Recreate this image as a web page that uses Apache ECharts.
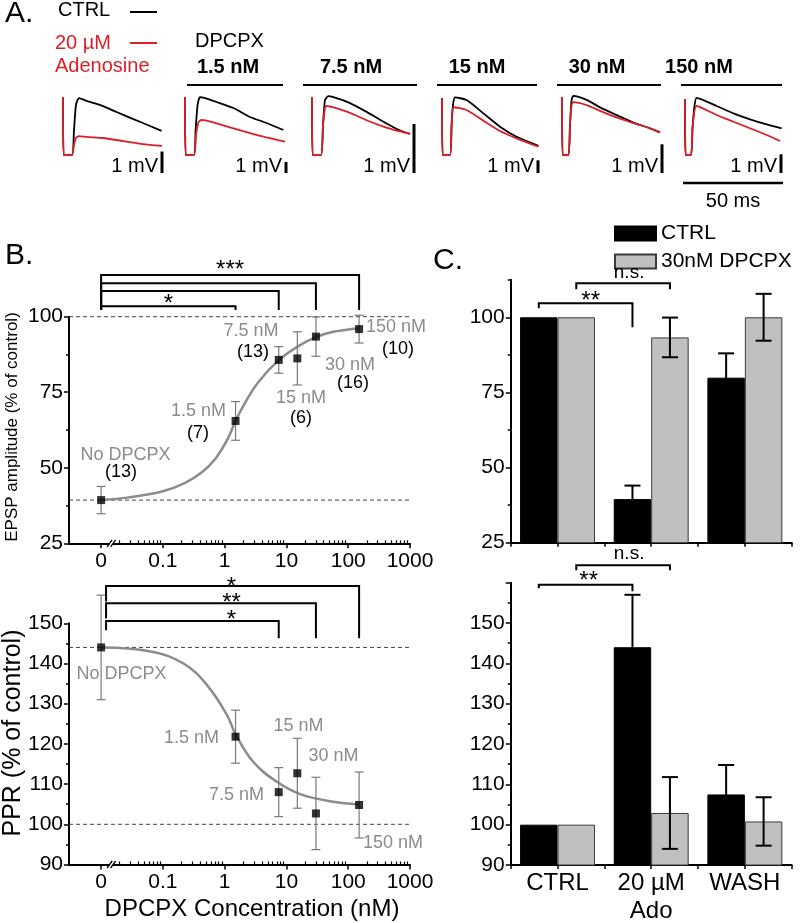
<!DOCTYPE html>
<html><head><meta charset="utf-8">
<script src="https://cdn.jsdelivr.net/npm/echarts@6/dist/echarts.min.js"></script>
<style>html,body{margin:0;padding:0;background:#fff}#c{width:800px;height:923px}</style>
</head><body><div id="c"></div>
<script>
// ===================== DATA =====================
// Panel A: EPSP traces [time ms, mV]
const ctrlTrace1 = [[0,2.70],[0.3,0],[4.5,0],[5.5,1.16],[6.5,2.33],[8,2.65],[12,2.51],[18.5,2.33],[26.8,2.00],[35.2,1.67],[43.5,1.35],[49.3,1.12]];
const adoTrace1  = [[0,2.70],[0.3,0],[4.5,0],[5.5,0.47],[6.5,0.79],[8,0.88],[12,0.84],[20,0.79],[30,0.65],[40,0.51],[49.5,0.42]];
const ctrlTrace2 = [[0,5.27],[0.3,0],[4.5,0],[5.3,2.27],[6.3,4.55],[7.5,5.27],[10,5.18],[15.8,4.82],[24.2,4.27],[32.5,3.45],[40.8,2.91],[49.2,2.27]];
const adoTrace2  = [[0,5.27],[0.3,0],[4.5,0],[5.5,1.82],[6.8,3.0],[8.3,3.18],[10.8,3.12],[15.8,2.88],[24.2,2.43],[37.5,1.73],[50,1.21]];
const ctrlTrace3 = [[0,1.18],[0.3,0],[4.5,0],[5.5,0.61],[6.5,1.12],[8.2,1.20],[10.7,1.18],[19,1.06],[27.3,0.88],[35.7,0.68],[44,0.50],[49,0.43]];
const adoTrace3  = [[0,1.18],[0.3,0],[4.5,0],[5.5,0.61],[6.5,0.96],[7.3,1.0],[10.7,0.97],[19,0.86],[27.3,0.71],[35.7,0.58],[44,0.48],[49,0.43]];
const ctrlTrace4 = [[0,4.49],[0.3,0],[4,0],[4.8,2.36],[5.5,3.94],[6.5,4.54],[12.3,4.33],[20.7,3.28],[29,2.23],[37.3,1.44],[48.2,0.73]];
const adoTrace4  = [[0,4.49],[0.3,0],[4,0],[4.8,2.36],[5.7,3.76],[12.3,3.54],[20.7,2.70],[29,1.89],[37.3,1.31],[48.2,0.65]];
const ctrlTrace5 = [[0,2.02],[0.3,0],[3.2,0],[4,1.05],[4.8,1.92],[5.7,2.06],[12.3,1.92],[19,1.66],[27.3,1.39],[35.7,1.13],[44,0.93],[49,0.79]];
const adoTrace5  = [[0,2.02],[0.3,0],[3.2,0],[4,1.05],[4.8,1.74],[5.7,1.84],[12.3,1.74],[19,1.54],[27.3,1.31],[35.7,1.11],[44,0.93],[49,0.79]];
const ctrlTrace6 = [[0,2.99],[0.3,0],[3,0],[3.8,1.50],[4.8,2.67],[5.8,3.06],[15.8,2.62],[24.2,2.23],[32.5,1.91],[40.8,1.64],[48.3,1.43]];
const adoTrace6  = [[0,2.99],[0.3,0],[3,0],[3.8,1.50],[5.8,2.62],[15.8,2.14],[24.2,1.78],[32.5,1.43],[40.8,1.07],[47.5,0.75]];
const traceTitles = ['', '1.5 nM', '7.5 nM', '15 nM', '30 nM', '150 nM'];

// Panel B
const dpcpxConc = [0, 1.5, 7.5, 15, 30, 150];
const epspMean = [39.3, 65.5, 85.7, 86.2, 93.4, 95.9];
const epspSem  = [4.5, 6.4, 4.4, 8.8, 6.5, 4.6];
const epspN    = [13, 7, 13, 6, 16, 10];
const pprMean  = [144.0, 121.8, 108.0, 112.7, 102.7, 104.8];
const pprSem   = [13.0, 6.6, 6.1, 8.7, 9.0, 8.2];
const epspFitLogConc = [-2.0, -1.55, -1.0, -0.64, -0.37, -0.15, 0.06, 0.17, 0.33, 0.55, 0.88, 1.22, 1.50, 1.76, 2.18];
const epspFitVal     = [39.3, 40.2, 42.2, 45.0, 48.5, 53.0, 60.0, 65.3, 71.5, 78.5, 85.7, 90.6, 93.4, 95.0, 96.2];
const pprFitLogConc  = [-2.0, -1.2, -0.667, -0.279, 0.044, 0.173, 0.464, 0.852, 1.223, 1.757, 2.161];
const pprFitVal      = [144.0, 143.0, 140.0, 134.5, 127.0, 122.5, 115.5, 110.5, 107.5, 105.6, 105.0];
const logTickLabels  = ['0', '0.1', '1', '10', '100', '1000'];

// Panel C
const cCats = ['CTRL', '20 µM\nAdo', 'WASH'];
const cEpspCtrl = [100, 39.5, 79.9];
const cEpspCtrlErr = [0, 4.5, 8.1];
const cEpspDpcpx = [100, 93.3, 100.0];
const cEpspDpcpxErr = [0, 6.6, 7.8];
const cPprCtrl = [100, 144.0, 107.5];
const cPprCtrlErr = [0, 13.0, 7.3];
const cPprDpcpx = [100, 102.9, 100.8];
const cPprDpcpxErr = [0, 8.9, 6.0];

// ===================== LAYOUT / STYLE =====================
const FONT = '"Liberation Sans", Arial, Helvetica, sans-serif';
const RED = '#dc1e28';
const GRAYTXT = '#8c8c8c';
const LOG0 = -2;                 // position of "0" on the log axis
const toLog = c => c === 0 ? LOG0 : Math.log10(c);
const X_MIN = -2.52, X_MAX = 3, X_DASH_END = 3.32, BREAK_LOG = -1.83;

const aLeft = [63, 185, 312, 442, 562, 685];
const mvPx = [21.5, 11, 49, 12.7, 28.7, 18.7];
const scaleBarT = [49.5, 50.5, 51, 48, 50, 48];
const ctrlTraces = [ctrlTrace1, ctrlTrace2, ctrlTrace3, ctrlTrace4, ctrlTrace5, ctrlTrace6];
const adoTraces = [adoTrace1, adoTrace2, adoTrace3, adoTrace4, adoTrace5, adoTrace6];

function L(x1, y1, x2, y2, stroke, w) {
  return {type: 'line', shape: {x1, y1, x2, y2}, style: {stroke: stroke || '#000', lineWidth: w || 2}};
}
function T(x, y, s, o) {
  o = o || {};
  const al = o.align || 'left';
  return {type: 'text', x, y, rotation: o.rot || 0, z: 100,
    style: {text: s, fill: o.color || '#000',
      font: (o.weight || 'normal') + ' ' + (o.size || 20) + 'px ' + FONT,
      textAlign: al, align: al, textVerticalAlign: 'middle', verticalAlign: 'middle'}};
}

const grids = [], xAxes = [], yAxes = [], series = [];

// ----- Panel A -----
for (let i = 0; i < 6; i++) {
  grids.push({left: aLeft[i], top: 85, width: 100, height: 100, containLabel: false, outerBoundsMode: 'none'});
  xAxes.push({type: 'value', gridIndex: i, min: 0, max: 50, show: false});
  yAxes.push({type: 'value', gridIndex: i, min: -30 / mvPx[i], max: 70 / mvPx[i], show: false});
  series.push({type: 'line', name: 'ctrlA' + i, xAxisIndex: i, yAxisIndex: i, data: ctrlTraces[i], symbol: 'none',
    smooth: 0.2, clip: false, silent: true, z: 3, lineStyle: {color: '#000', width: 1.8}});
  series.push({type: 'line', name: 'adoA' + i, xAxisIndex: i, yAxisIndex: i, data: adoTraces[i], symbol: 'none',
    smooth: 0.2, clip: false, silent: true, z: 4, lineStyle: {color: RED, width: 1.8}});
  const last = (i === 5);
  series.push({type: 'custom', name: 'scaleA' + i, xAxisIndex: i, yAxisIndex: i, clip: false, silent: true, z: 5,
    data: [[scaleBarT[i]]],
    renderItem: (p, api) => {
      const t = api.value(0);
      const base = api.coord([t, 0]);
      const oneMv = base[1] - api.coord([t, 1])[1];
      const yb = base[1] + 18, yt = yb - oneMv;
      const ch = [L(base[0], yb, base[0], yt, '#000', 3),
        {type: 'text', x: base[0] - 4, y: yb - 7, style: {text: '1 mV', fill: '#000', font: '20px ' + FONT,
          textAlign: 'right', align: 'right', textVerticalAlign: 'middle', verticalAlign: 'middle'}}];
      if (last) {
        const a = api.coord([-1, 0]), b = api.coord([49, 0]);
        ch.push(L(a[0], base[1] + 28, b[0], base[1] + 28, '#000', 2.5));
        ch.push({type: 'text', x: (a[0] + b[0]) / 2, y: base[1] + 46, style: {text: '50 ms', fill: '#000', font: '20px ' + FONT,
          textAlign: 'center', align: 'center', textVerticalAlign: 'middle', verticalAlign: 'middle'}});
      }
      return {type: 'group', children: ch};
    }});
}

// ----- Axis helpers -----
const majorLog = [-2, -1, 0, 1, 2, 3];
const minorLog = [];
for (let d = -2; d <= 2; d++) for (let k = 2; k <= 9; k++) minorLog.push(d + Math.log10(k));

function yMain(g, min, max, ticks, labels) {
  return {type: 'value', gridIndex: g, position: 'left', min, max,
    axisLine: {show: true, onZero: false, lineStyle: {color: '#000', width: 2}},
    axisTick: {show: true, customValues: ticks, length: 5, lineStyle: {color: '#000', width: 1.5}},
    axisLabel: {show: true, customValues: labels, margin: 6, color: '#000', fontSize: 21, fontFamily: FONT},
    splitLine: {show: false}};
}
function yMinor(g, min, max, ticks) {
  return {type: 'value', gridIndex: g, position: 'left', min, max,
    axisLine: {show: false, onZero: false},
    axisTick: {show: true, customValues: ticks, length: 3, lineStyle: {color: '#000', width: 1.5}},
    axisLabel: {show: false}, splitLine: {show: false}};
}
function xLogMain(g) {
  return {type: 'value', gridIndex: g, position: 'bottom', min: X_MIN, max: X_MAX,
    axisLine: {show: true, onZero: false, lineStyle: {color: '#000', width: 2}},
    axisTick: {show: true, customValues: majorLog, length: 5, lineStyle: {color: '#000', width: 1.5}},
    axisLabel: {show: true, customValues: majorLog, margin: 7, color: '#000', fontSize: 21, fontFamily: FONT,
      formatter: v => logTickLabels[majorLog.indexOf(Math.round(v))]},
    splitLine: {show: false}};
}
function xLogMinor(g) {
  return {type: 'value', gridIndex: g, position: 'bottom', min: X_MIN, max: X_MAX,
    axisLine: {show: false, onZero: false},
    axisTick: {show: true, inside: true, customValues: minorLog, length: 3, lineStyle: {color: '#000', width: 1.2}},
    axisLabel: {show: false}, splitLine: {show: false}};
}
function xCat(g, labels) {
  return {type: 'category', gridIndex: g, position: 'bottom', data: cCats,
    axisLine: {show: true, onZero: false, lineStyle: {color: '#000', width: 2}},
    axisTick: {show: true, length: 4, alignWithLabel: false, lineStyle: {color: '#000', width: 1.5}},
    axisLabel: {show: labels, margin: 4, color: '#000', fontSize: 24, lineHeight: 28, fontFamily: FONT, interval: 0},
    splitLine: {show: false}};
}
function xCatCenter(g) {
  return {type: 'category', gridIndex: g, position: 'bottom', data: cCats,
    axisLine: {show: false, onZero: false},
    axisTick: {show: true, length: 4, alignWithLabel: true, lineStyle: {color: '#000', width: 1.5}},
    axisLabel: {show: false}, splitLine: {show: false}};
}

// grids 6..9
grids.push({left: 69, top: 316.7, width: 341, height: 226.6, containLabel: false, outerBoundsMode: 'none'});   // B top
grids.push({left: 69, top: 623.3, width: 341, height: 241.2, containLabel: false, outerBoundsMode: 'none'});   // B bottom
grids.push({left: 510.7, top: 279.7, width: 281, height: 263, containLabel: false, outerBoundsMode: 'none'});  // C top
grids.push({left: 510.7, top: 582.7, width: 281, height: 282.3, containLabel: false, outerBoundsMode: 'none'}); // C bottom

xAxes.push(xLogMain(6), xLogMinor(6), xLogMain(7), xLogMinor(7), xCat(8, false), xCatCenter(8), xCat(9, true), xCatCenter(9));
yAxes.push(yMain(6, 25, 100, [25, 50, 75, 100], [25, 50, 75, 100]), yMinor(6, 25, 100, [37.5, 62.5, 87.5]));
yAxes.push(yMain(7, 90, 150, [90, 100, 110, 120, 130, 140, 150], [90, 100, 110, 120, 130, 140, 150]),
  yMinor(7, 90, 150, [95, 105, 115, 125, 135, 145]));
yAxes.push(yMain(8, 25, 112.5, [25, 50, 75, 100], [25, 50, 75, 100]), yMinor(8, 25, 112.5, [37.5, 62.5, 87.5, 112.5]));
yAxes.push(yMain(9, 90, 160, [90, 100, 110, 120, 130, 140, 150, 160], [90, 100, 110, 120, 130, 140, 150]),
  yMinor(9, 90, 160, [95, 105, 115, 125, 135, 145, 155]));

// ----- Panel B series -----
function dashed(ax, y) {
  return {type: 'line', xAxisIndex: ax, yAxisIndex: ax, data: [[X_MIN, y], [X_DASH_END, y]], symbol: 'none',
    clip: false, silent: true, z: 1, lineStyle: {color: '#444', width: 1, type: [4, 3]}};
}
function errB(ax, xs, m, e) {
  return {type: 'custom', xAxisIndex: ax, yAxisIndex: ax, clip: false, silent: true, z: 6,
    data: xs.map((x, i) => [x, m[i], e[i]]),
    renderItem: (p, api) => {
      const x = api.value(0), v = api.value(1), s = api.value(2);
      const a = api.coord([x, v + s]), b = api.coord([x, v - s]);
      const c = '#7a7a7a';
      return {type: 'group', children: [L(a[0], a[1], b[0], b[1], c, 1.2),
        L(a[0] - 4.5, a[1], a[0] + 4.5, a[1], c, 1.2), L(b[0] - 4.5, b[1], b[0] + 4.5, b[1], c, 1.2)]};
    }};
}
function breakMark(ax, yMin) {
  return {type: 'custom', xAxisIndex: ax, yAxisIndex: ax, clip: false, silent: true, z: 9,
    data: [[BREAK_LOG, yMin]],
    renderItem: (p, api) => {
      const c = api.coord([api.value(0), api.value(1)]);
      const x = c[0], y = c[1];
      return {type: 'group', children: [
        {type: 'rect', shape: {x: x - 2.2, y: y - 3, width: 3.6, height: 6}, style: {fill: '#fff'}},
        L(x - 4.5, y + 3.5, x + 0.5, y - 3.5, '#000', 1.3), L(x - 1, y + 3.5, x + 4, y - 3.5, '#000', 1.3)]};
    }};
}
function bracketSeries(ax, list, xOf) {
  return {type: 'custom', xAxisIndex: ax, yAxisIndex: ax, clip: false, silent: true, z: 8,
    data: list.map((b, i) => [i]),
    renderItem: (p, api) => {
      const b = list[p.dataIndex];
      const Y = v => api.coord([0, v])[1];
      const x1 = xOf(b.from, api), x2 = xOf(b.to, api);
      const ch = [{type: 'polyline', shape: {points: [[x1, Y(b.l)], [x1, Y(b.y)], [x2, Y(b.y)], [x2, Y(b.r)]]},
        style: {stroke: '#000', lineWidth: 2, fill: null}}];
      if (b.text) {
        const star = b.text.indexOf('*') >= 0;
        const fs = star ? 24 : 19;
        const tx = (b.tx !== undefined ? xOf(b.tx, api) : (x1 + x2) / 2) + (b.dx || 0);
        const ty = Y(b.ty) + (star ? 0.226 * fs : -0.09 * fs);
        ch.push({type: 'text', x: tx, y: ty, style: {text: b.text, fill: '#000', font: fs + 'px ' + FONT,
          textAlign: 'center', align: 'center', textVerticalAlign: 'middle', verticalAlign: 'middle'}});
      }
      return {type: 'group', children: ch};
    }};
}
const logX = (v, api) => api.coord([v, 100])[0];

const epspBrackets = [
  {from: LOG0, to: toLog(150), y: 113.8, l: 102.3, r: 102.2, text: '***', ty: 117.1},
  {from: LOG0, to: toLog(30), y: 111.1, l: 102.3, r: 102.2},
  {from: LOG0, to: toLog(7.5), y: 108.5, l: 102.3, r: 102.2},
  {from: LOG0, to: toLog(1.5), y: 103.5, l: 102.3, r: 102.2, text: '*', ty: 105.9}
];
const pprBrackets = [
  {from: -1.92, to: toLog(150), y: 159.3, l: 155.4, r: 146.3, text: '*', ty: 160.3, tx: 0.11},
  {from: -1.92, to: toLog(30), y: 155.0, l: 151.2, r: 146.3, text: '**', ty: 156.3, tx: 0.11},
  {from: -1.92, to: toLog(7.5), y: 150.6, l: 148.3, r: 146.3, text: '*', ty: 152.1, tx: 0.11}
];

const concX = dpcpxConc.map(toLog);
[[6, epspMean, epspSem, epspFitLogConc, epspFitVal, 100, epspFitVal[0], epspBrackets, 25],
 [8, pprMean, pprSem, pprFitLogConc, pprFitVal, 100, pprFitVal[0], pprBrackets, 90]].forEach(cfg => {
  const [ax, m, e, fx, fy, ref1, ref2, br, ymin] = cfg;
  series.push(dashed(ax, ref1), dashed(ax, ref2));
  series.push({type: 'line', xAxisIndex: ax, yAxisIndex: ax, data: fx.map((x, i) => [x, fy[i]]), symbol: 'none',
    smooth: 0.4, silent: true, z: 2, clip: false, lineStyle: {color: '#8c8c8c', width: 2.5}});
  series.push(errB(ax, concX, m, e));
  series.push({type: 'scatter', xAxisIndex: ax, yAxisIndex: ax, data: concX.map((x, i) => [x, m[i]]),
    symbol: 'rect', symbolSize: 8, itemStyle: {color: '#000'}, silent: true, z: 7, clip: false});
  series.push(bracketSeries(ax, br, logX));
  series.push(breakMark(ax, ymin));
});

// ----- Panel C series -----
function cBars(ax, ctrl, dp) {
  return [
    {type: 'bar', name: 'CTRL', xAxisIndex: ax, yAxisIndex: ax, data: ctrl, barWidth: '40%', barGap: '0%',
      itemStyle: {color: '#000', borderColor: '#000', borderWidth: 1}, silent: true, z: 2},
    {type: 'bar', name: '30nM DPCPX', xAxisIndex: ax, yAxisIndex: ax, data: dp, barWidth: '40%', barGap: '0%',
      itemStyle: {color: '#c0c0c0', borderColor: '#3a3a3a', borderWidth: 1}, silent: true, z: 2}];
}
function cErr(ax, m, e, side) {
  return {type: 'custom', xAxisIndex: ax, yAxisIndex: ax, clip: false, silent: true, z: 6,
    data: m.map((v, i) => [i, v, e[i]]).filter(d => d[2] > 0),
    renderItem: (p, api) => {
      const i = api.value(0), v = api.value(1), s = api.value(2);
      const band = api.size([1, 0])[0];
      const x = api.coord([i, v])[0] + side * 0.2 * band;
      const top = api.coord([i, v + s])[1], bot = api.coord([i, v - s])[1];
      return {type: 'group', children: [L(x, top, x, bot, '#000', 2), L(x - 8, top, x + 8, top, '#000', 2),
        L(x - 8, bot, x + 8, bot, '#000', 2)]};
    }};
}
const catX = (spec, api) => api.coord([spec[0], 100])[0] + (spec[1] === 0 ? -0.2 : 0.2) * api.size([1, 0])[0];
const cEpspBrackets = [
  {from: [0, 0], to: [1, 0], y: 104.7, l: 103.0, r: 96.7, text: '**', ty: 107.1, dx: 5},
  {from: [0, 1], to: [1, 1], y: 111.3, l: 109.3, r: 109.3, text: 'n.s.', ty: 114.1, dx: 6}
];
const cPprBrackets = [
  {from: [0, 0], to: [1, 0], y: 159.5, l: 158.6, r: 157.9, text: '**', ty: 161.6, dx: 3},
  {from: [0, 1], to: [1, 1], y: 164.3, l: 163.1, r: 163.1, text: 'n.s.', ty: 166.7, dx: 6}
];
series.push(...cBars(10, cEpspCtrl, cEpspDpcpx), cErr(10, cEpspCtrl, cEpspCtrlErr, -1), cErr(10, cEpspDpcpx, cEpspDpcpxErr, 1),
  bracketSeries(10, cEpspBrackets, catX));
series.push(...cBars(12, cPprCtrl, cPprDpcpx), cErr(12, cPprCtrl, cPprCtrlErr, -1), cErr(12, cPprDpcpx, cPprDpcpxErr, 1),
  bracketSeries(12, cPprBrackets, catX));

// ----- Graphic annotations -----
const graphics = [
  T(5, 14, 'A.', {size: 30}),
  T(58, 10, 'CTRL'), L(130, 12, 157, 12, '#000', 2),
  T(55, 43, '20 µM', {color: RED}), L(130, 43, 157, 43, RED, 2),
  T(55, 66, 'Adenosine', {color: RED}),
  T(195, 41, 'DPCPX'),
  T(5, 256, 'B.', {size: 30}),
  T(433, 261, 'C.', {size: 30}),
  T(12, 427, 'EPSP amplitude (% of control)', {size: 17, rot: Math.PI / 2, align: 'center'}),
  T(13, 733, 'PPR (% of control)', {size: 25, rot: Math.PI / 2, align: 'center'}),
  T(252, 909, 'DPCPX Concentration (nM)', {size: 24, align: 'center'})
];
const headingX = [0, 228, 351, 477, 597, 699];
const headingLine = [null, [187, 283], [303, 417], [437, 537], [557, 661], [681, 782]];
for (let i = 1; i < 6; i++) {
  graphics.push(T(headingX[i], 67, traceTitles[i], {weight: 'bold', align: 'center'}));
  graphics.push(L(headingLine[i][0], 85, headingLine[i][1], 85, '#000', 2));
}
const concNames = ['No DPCPX', '1.5 nM', '7.5 nM', '15 nM', '30 nM', '150 nM'];
const epspLabelPos = [[125.5, 455], [198.5, 410.7], [251, 331], [301, 398], [350, 365], [396, 327]];
const epspNPos = [[121, 472], [198, 433], [253, 351.7], [301, 417.7], [353, 383], [398, 349]];
const pprLabelPos = [[121.5, 674], [191.5, 737.7], [236.5, 795], [298.5, 725.7], [333.5, 756], [393, 843]];
for (let i = 0; i < 6; i++) {
  graphics.push(T(epspLabelPos[i][0], epspLabelPos[i][1], concNames[i], {size: 18, color: GRAYTXT, align: 'center'}));
  graphics.push(T(epspNPos[i][0], epspNPos[i][1], '(' + epspN[i] + ')', {size: 18, align: 'center'}));
  graphics.push(T(pprLabelPos[i][0], pprLabelPos[i][1], concNames[i], {size: 18, color: GRAYTXT, align: 'center'}));
}

const chart = echarts.init(document.getElementById('c'), null, {renderer: 'canvas'});
chart.setOption({
  animation: false,
  backgroundColor: '#fff',
  textStyle: {fontFamily: FONT},
  legend: {data: ['CTRL', '30nM DPCPX'], orient: 'vertical', left: 614, top: 223, itemWidth: 41, itemHeight: 14,
    itemGap: 7, padding: 0, selectedMode: false, icon: 'rect',
    textStyle: {fontSize: 21, color: '#000', fontFamily: FONT}},
  grid: grids, xAxis: xAxes, yAxis: yAxes, series: series, graphic: graphics
});
</script></body></html>
